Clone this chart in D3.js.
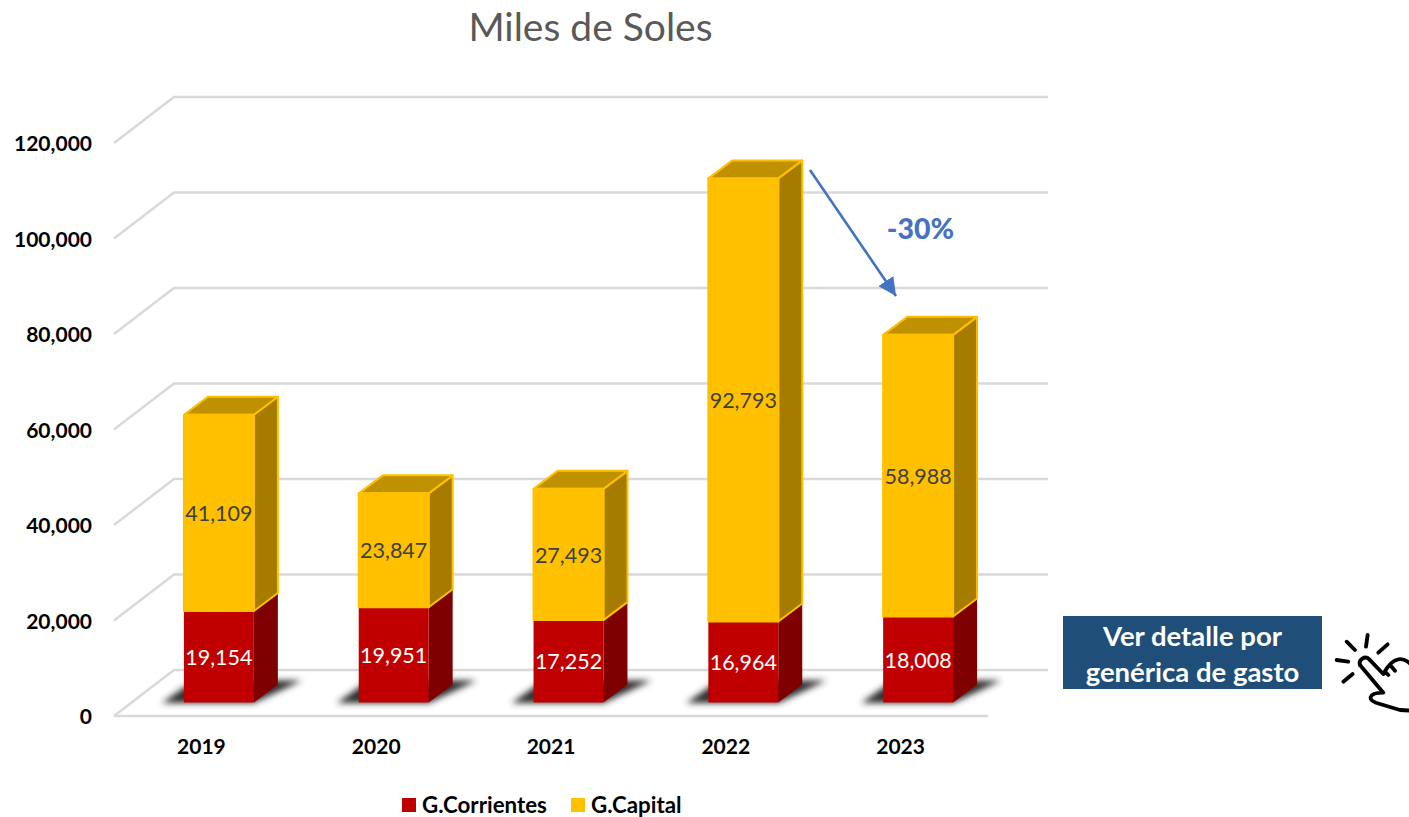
<!DOCTYPE html>
<html><head><meta charset="utf-8">
<script src="https://cdn.jsdelivr.net/npm/d3@7"></script>
<style>html,body{margin:0;padding:0;background:#fff;overflow:hidden}svg{display:block}text{font-family:Lato,"Open Sans",sans-serif}</style>
</head><body><div id="c"></div>
<script>
const years = ["2019","2020","2021","2022","2023"];
const corrientes = [19154,19951,17252,16964,18008];
const capital = [41109,23847,27493,92793,58988];
const yTicks = [0,20000,40000,60000,80000,100000,120000];
const seriesNames = ["G.Corrientes","G.Capital"];
const palette = {
  "G.Corrientes":{front:"#C00000",side:"#7F0000",top:"#7F0000",stroke:"#C00000",label:"#fff"},
  "G.Capital":{front:"#FFC000",side:"#A67C00",top:"#BF9000",stroke:"#FFC000",label:"#404040"}
};
const W=1409,H=817;
const svg=d3.select("#c").append("svg").attr("width",W).attr("height",H);
const defs=svg.append("defs");
defs.append("filter").attr("id","blur").attr("x","-30%").attr("y","-60%").attr("width","160%").attr("height","220%")
  .append("feGaussianBlur").attr("stdDeviation",3);
const mk=defs.append("marker").attr("id","ah").attr("viewBox","0 0 10 10").attr("refX",10).attr("refY",5)
  .attr("markerUnits","userSpaceOnUse").attr("markerWidth",18).attr("markerHeight",18).attr("orient","auto");
mk.append("path").attr("d","M0,0L10,5L0,10Z").attr("fill","#4472C4");

const x0=114,x1=988,wallDx=60,wallDy=-46,barDx=24,barDy=-18,floorDx=18,floorDy=-14;
const y=d3.scaleLinear().domain([0,120000]).range([716,143]);
const x=d3.scaleBand().domain(years).range([x0,x1]).paddingInner(0.6).paddingOuter(0.3);
const grid="#D9D9D9";

// title
svg.append("text").attr("x",590.5).attr("y",40.5).attr("text-anchor","middle").attr("font-size",39).attr("fill","#595959").text("Miles de Soles");

// walls and floor
const g=svg.append("g").attr("fill","none").attr("stroke",grid).attr("stroke-width",2.5);
g.selectAll("path").data(yTicks).join("path")
  .attr("d",d=>`M${x0},${y(d)}L${x0+wallDx},${y(d)+wallDy}L${x1+wallDx},${y(d)+wallDy}`);
g.append("line").attr("x1",x0).attr("x2",x1).attr("y1",y(0)).attr("y2",y(0));

// axes
const ax=svg.append("g").attr("transform",`translate(${x0-22},1)`)
  .call(d3.axisLeft(y).tickValues(yTicks).tickSize(0).tickPadding(0).tickFormat(d3.format(",")));
ax.select(".domain").remove();
ax.selectAll("text").attr("font-size",21).attr("font-weight",700).attr("fill","#000").style("font-family","Lato,sans-serif").attr("dy","0.32em");
const bx=svg.append("g").attr("transform","translate(0,739)")
  .call(d3.axisBottom(x).tickSize(0).tickPadding(0));
bx.select(".domain").remove();
bx.selectAll("text").attr("font-size",21).attr("font-weight",700).attr("fill","#000").style("font-family","Lato,sans-serif").attr("dy","0.71em");

// bars
const bars=svg.append("g");
const fy=v=>y(v)+floorDy+0.5;
years.forEach((yr,i)=>{
  const l=x(yr)+floorDx-0.5, w=x.bandwidth(), r=l+w;
  const gg=bars.append("g");
  // shadow
  gg.append("path").attr("d",`M${l-22},${fy(0)+0.5}L${r},${fy(0)+0.5}L${r+48},${fy(0)-22}L${l+10},${fy(0)-22}Z`)
    .attr("fill","#2e2e2e").attr("filter","url(#blur)");
  const segs=[[seriesNames[0],0,corrientes[i]],[seriesNames[1],corrientes[i],corrientes[i]+capital[i]]];
  segs.forEach(([n,a,b],j)=>{
    const c=palette[n],ya=fy(a),yb=fy(b);
    const st=j===1?{stroke:c.stroke,"stroke-width":2,"stroke-linejoin":"round"}:{stroke:"none"};
    const p=(d,f)=>{const e=gg.append("path").attr("d",d).attr("fill",f);Object.entries(st).forEach(([k,v])=>e.attr(k,v));};
    p(`M${r},${ya}L${r+barDx},${ya+barDy}L${r+barDx},${yb+barDy}L${r},${yb}Z`,c.side);
    if(j===1) p(`M${l},${yb}L${l+barDx},${yb+barDy}L${r+barDx},${yb+barDy}L${r},${yb}Z`,c.top);
    p(`M${l},${ya}L${r},${ya}L${r},${yb}L${l},${yb}Z`,c.front);
    gg.append("text").attr("x",(l+r)/2).attr("y",(ya+yb)/2+0.5).attr("dy","0.35em").attr("text-anchor","middle")
      .attr("font-size",21.5).attr("fill",c.label).text(d3.format(",")(b-a));
  });
});

// legend
const legendX=[402,571];
seriesNames.forEach((n,i)=>{
  svg.append("rect").attr("x",legendX[i]).attr("y",798).attr("width",14).attr("height",14).attr("fill",palette[n].front);
  svg.append("text").attr("x",legendX[i]+20).attr("y",813).attr("font-size",22.3).attr("font-weight",700).attr("fill","#000").text(n);
});

// arrow
svg.append("line").attr("x1",810).attr("y1",170).attr("x2",896).attr("y2",296).attr("stroke","#4472C4").attr("stroke-width",2.6).attr("marker-end","url(#ah)");
svg.append("text").attr("x",920.5).attr("y",239).attr("text-anchor","middle").attr("font-size",28.5).attr("font-weight",900).attr("fill","#4472C4").text("-30%");

// button
svg.append("rect").attr("x",1063).attr("y",616).attr("width",259).attr("height",73).attr("fill","#1F4E79");
["Ver detalle por","genérica de gasto"].forEach((t,i)=>svg.append("text").attr("x",1192.5).attr("y",646+i*36).attr("text-anchor","middle")
  .attr("font-size",27.5).attr("font-weight",700).attr("fill","#fff").text(t));

// hand icon
const h=svg.append("g").attr("transform","translate(1050,600) scale(0.3333)").attr("fill","none").attr("stroke","#000").attr("stroke-width",11.5).attr("stroke-linecap","round").attr("stroke-linejoin","round");
["M890,125L915,150","M953,105L948,140","M1013,133L985,158","M860,180L895,185","M880,245L908,222",
 "M930,195C925,180 945,165 958,178L1000,222C1012,200 1030,180 1045,178C1060,175 1075,185 1085,195M1005,215L1015,225M1025,200L1035,212",
 "M930,195L1000,278C985,278 965,280 962,292C960,302 975,308 990,312L1050,330L1085,332"]
 .forEach(d=>h.append("path").attr("d",d));
</script></body></html>
